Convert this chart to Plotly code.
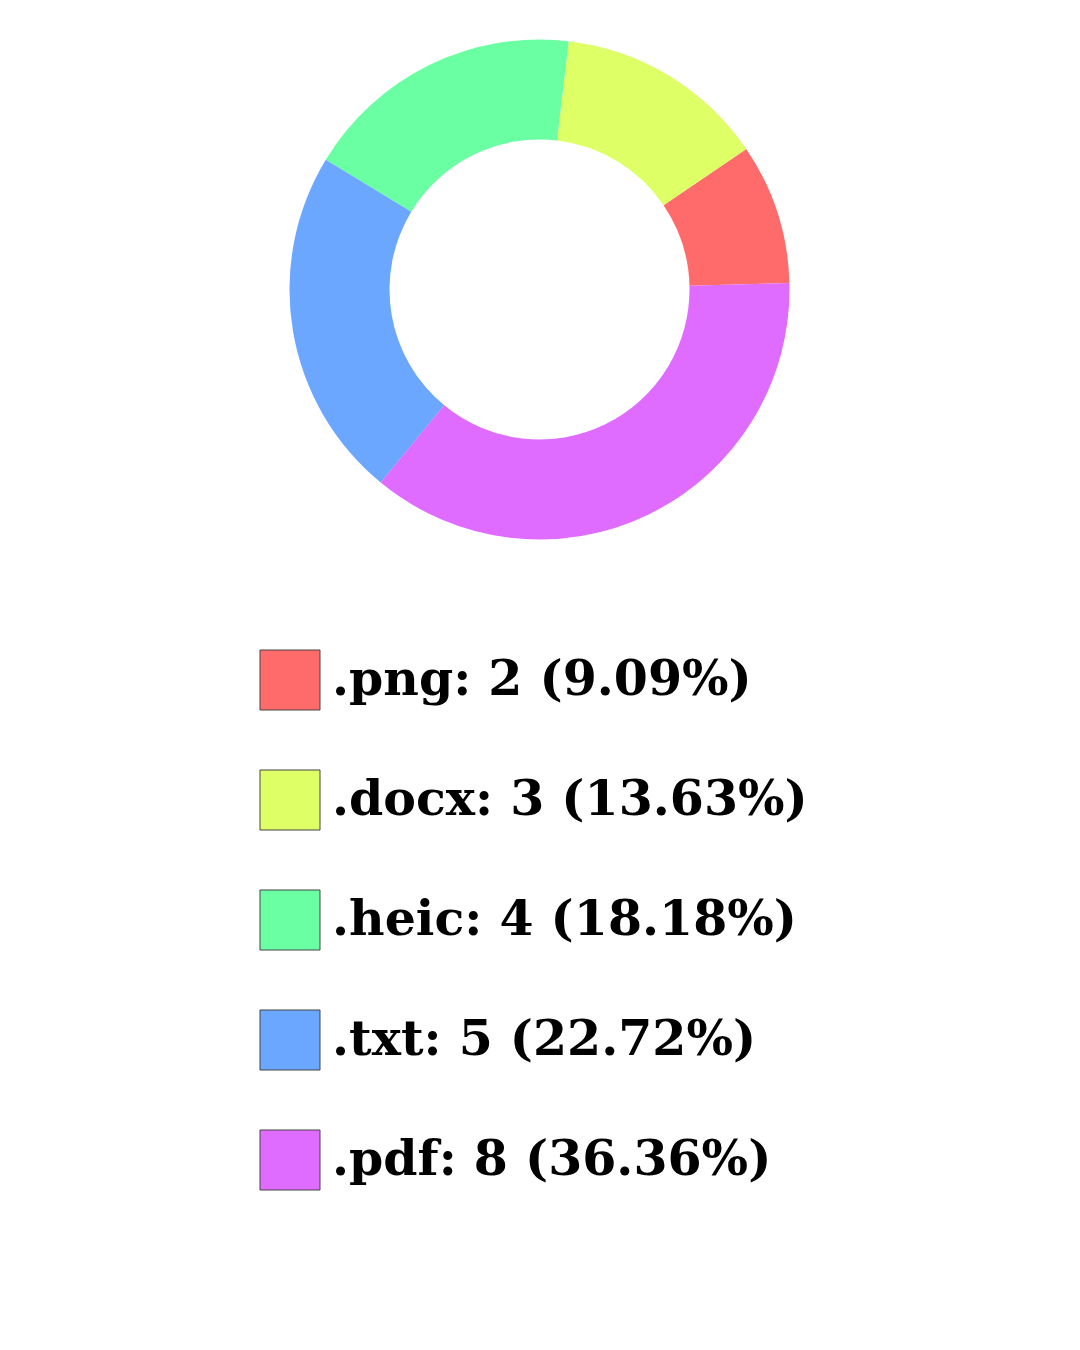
import math
import plotly.graph_objects as go

# ---- data ----
labels = [".png", ".docx", ".heic", ".txt", ".pdf"]
counts = [2, 3, 4, 5, 8]
colors = ["#FF6B6B", "#DFFF66", "#6BFFA3", "#6BA6FF", "#DF6BFF"]

W, H = 1080, 1350
OFF = 8  # page body margin
total = sum(counts)

def px_x(px):
    return (px - OFF) / W

def px_y(py):
    return 1 - (py - OFF) / H

fig = go.Figure()
fig.add_trace(go.Pie(
    labels=labels,
    values=counts,
    hole=0.6,
    sort=False,
    direction="counterclockwise",
    rotation=55.8,
    marker=dict(colors=colors, line=dict(width=0)),
    textinfo="none",
    hoverinfo="label+value+percent",
    showlegend=False,
    domain=dict(x=[px_x(289.5), px_x(789.5)], y=[px_y(539.5), px_y(39.5)]),
))

shapes = []
annotations = []
row0, step, box = 650, 120, 60
for i, (lab, c, col) in enumerate(zip(labels, counts, colors)):
    top = row0 + i * step
    shapes.append(dict(
        type="rect", xref="paper", yref="paper",
        x0=px_x(260), x1=px_x(320), y0=px_y(top + box), y1=px_y(top),
        fillcolor=col, line=dict(color="#444444", width=1),
    ))
    pct = math.floor(c / total * 10000 + 1e-9) / 100
    annotations.append(dict(
        xref="paper", yref="paper", x=px_x(330), y=px_y(top + box / 2 - 2),
        xanchor="left", yanchor="middle", showarrow=False,
        text=f"{lab}: {c} ({pct:.2f}%)",
        font=dict(family="DejaVu Serif", size=49, color="#000000", weight="bold"),
    ))

fig.update_layout(
    width=W, height=H,
    margin=dict(l=0, r=0, t=0, b=0),
    paper_bgcolor="white", plot_bgcolor="white",
    shapes=shapes, annotations=annotations,
)
fig.write_html("out.html")
